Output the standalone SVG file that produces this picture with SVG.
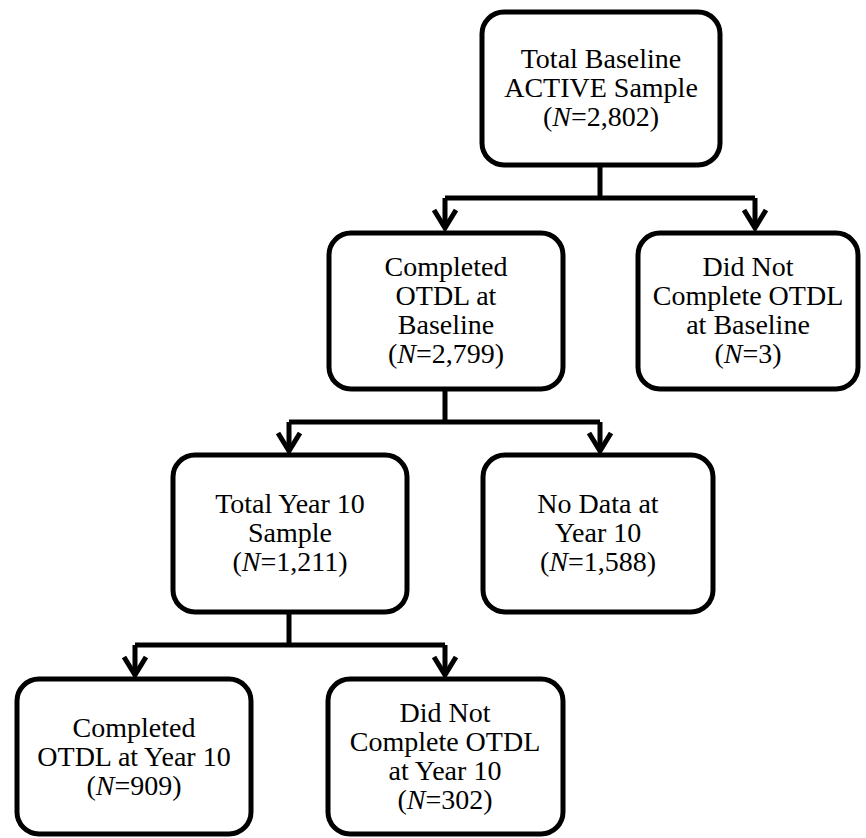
<svg xmlns="http://www.w3.org/2000/svg" width="866" height="838" viewBox="0 0 866 838">
<style>
.box{fill:#fff;stroke:#000;stroke-width:5}
.ln{fill:none;stroke:#000;stroke-width:5}
.ah{fill:none;stroke:#000;stroke-width:5;stroke-linejoin:miter}
.i{font-style:italic}
</style>
<rect width="866" height="838" fill="#fff"/>
<g id="connectors">
<path class="ln" d="M600 165V198M445 198H755M445 198V226M755 198V226"/>
<path class="ln" d="M445 389V422M289 422H600M289 422V449M600 422V449"/>
<path class="ln" d="M289 612V645M135 645H445M135 645V673M445 645V673"/>
<path class="ah" d="M434 210L445 228L456 210M744 210L755 228L766 210"/>
<path class="ah" d="M278 433L289 451L300 433M589 433L600 451L611 433"/>
<path class="ah" d="M124 657L135 675L146 657M434 657L445 675L456 657"/>
</g>
<g id="n1">
<rect class="box" x="482" y="12" width="238" height="153" rx="22"/>
<text font-family="Liberation Serif" font-size="28" text-anchor="middle" x="601" y="68">Total Baseline</text>
<text font-family="Liberation Serif" font-size="28" text-anchor="middle" x="601" y="97">ACTIVE Sample</text>
<text font-family="Liberation Serif" font-size="28" text-anchor="middle" x="601" y="126">(<tspan class="i">N</tspan>=2,802)</text>
</g>
<g id="n2">
<rect class="box" x="329" y="233" width="234" height="156" rx="22"/>
<text font-family="Liberation Serif" font-size="28" text-anchor="middle" x="446" y="276">Completed</text>
<text font-family="Liberation Serif" font-size="28" text-anchor="middle" x="446" y="305">OTDL at</text>
<text font-family="Liberation Serif" font-size="28" text-anchor="middle" x="446" y="334">Baseline</text>
<text font-family="Liberation Serif" font-size="28" text-anchor="middle" x="446" y="363">(<tspan class="i">N</tspan>=2,799)</text>
</g>
<g id="n3">
<rect class="box" x="638" y="233" width="220" height="156" rx="22"/>
<text font-family="Liberation Serif" font-size="28" text-anchor="middle" x="748" y="276">Did Not</text>
<text font-family="Liberation Serif" font-size="28" text-anchor="middle" x="748" y="305">Complete OTDL</text>
<text font-family="Liberation Serif" font-size="28" text-anchor="middle" x="748" y="334">at Baseline</text>
<text font-family="Liberation Serif" font-size="28" text-anchor="middle" x="748" y="363">(<tspan class="i">N</tspan>=3)</text>
</g>
<g id="n4">
<rect class="box" x="173" y="455" width="234" height="157" rx="22"/>
<text font-family="Liberation Serif" font-size="28" text-anchor="middle" x="290" y="513">Total Year 10</text>
<text font-family="Liberation Serif" font-size="28" text-anchor="middle" x="290" y="542">Sample</text>
<text font-family="Liberation Serif" font-size="28" text-anchor="middle" x="290" y="571">(<tspan class="i">N</tspan>=1,211)</text>
</g>
<g id="n5">
<rect class="box" x="483" y="455" width="230" height="157" rx="22"/>
<text font-family="Liberation Serif" font-size="28" text-anchor="middle" x="598" y="513">No Data at</text>
<text font-family="Liberation Serif" font-size="28" text-anchor="middle" x="598" y="542">Year 10</text>
<text font-family="Liberation Serif" font-size="28" text-anchor="middle" x="598" y="571">(<tspan class="i">N</tspan>=1,588)</text>
</g>
<g id="n6">
<rect class="box" x="17" y="679" width="234" height="155" rx="22"/>
<text font-family="Liberation Serif" font-size="28" text-anchor="middle" x="134" y="737">Completed</text>
<text font-family="Liberation Serif" font-size="28" text-anchor="middle" x="134" y="766">OTDL at Year 10</text>
<text font-family="Liberation Serif" font-size="28" text-anchor="middle" x="134" y="795">(<tspan class="i">N</tspan>=909)</text>
</g>
<g id="n7">
<rect class="box" x="328" y="679" width="235" height="155" rx="22"/>
<text font-family="Liberation Serif" font-size="28" text-anchor="middle" x="445" y="722">Did Not</text>
<text font-family="Liberation Serif" font-size="28" text-anchor="middle" x="445" y="751">Complete OTDL</text>
<text font-family="Liberation Serif" font-size="28" text-anchor="middle" x="445" y="780">at Year 10</text>
<text font-family="Liberation Serif" font-size="28" text-anchor="middle" x="445" y="809">(<tspan class="i">N</tspan>=302)</text>
</g>
</svg>
